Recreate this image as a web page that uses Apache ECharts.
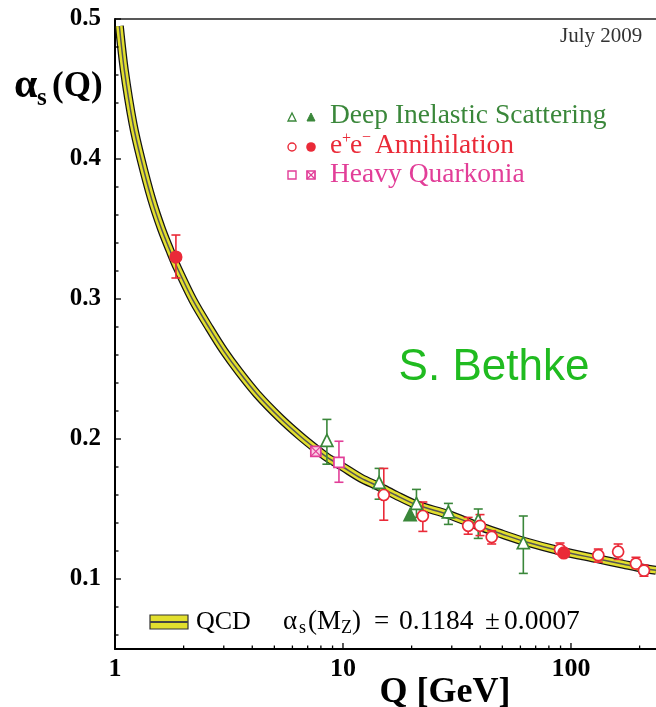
<!DOCTYPE html>
<html><head><meta charset="utf-8">
<script src="https://cdn.jsdelivr.net/npm/echarts@6/dist/echarts.min.js"></script>
<style>html,body{margin:0;padding:0;background:#fff}#c{width:656px;height:707px}</style>
</head><body><div id="c"></div>
<script>
// QCD running curve
const curveQ = [1.045, 1.1, 1.2, 1.3, 1.45, 1.6, 1.75, 1.88, 2.2, 2.6, 3.0, 3.5, 4.2, 5.3, 6.5, 7.6, 8.5, 10, 12, 14.4, 17, 21, 29, 39, 50, 62, 90, 130, 170, 209, 236];
const curveA = [0.495, 0.463, 0.425, 0.400, 0.371, 0.350, 0.334, 0.322, 0.299, 0.279, 0.263, 0.248, 0.232, 0.215, 0.202, 0.193, 0.187, 0.180, 0.172, 0.166, 0.160, 0.153, 0.146, 0.138, 0.132, 0.127, 0.120, 0.1145, 0.1105, 0.1075, 0.1062];

// Deep Inelastic Scattering
const disOpenQ  = [8.5, 14.4, 21, 29, 39.2, 61.8];
const disOpenA  = [0.199, 0.169, 0.154, 0.148, 0.142, 0.126];
const disOpenLo = [0.182, 0.157, 0.144, 0.139, 0.129, 0.104];
const disOpenHi = [0.214, 0.179, 0.164, 0.154, 0.150, 0.145];
const disFilledQ = [19.7];
const disFilledA = [0.146];

// e+e- Annihilation
const eeOpenQ  = [15.1, 22.4, 35.4, 39.9, 44.9, 89.5, 131.8, 161, 192.8, 209];
const eeOpenA  = [0.160, 0.145, 0.138, 0.138, 0.130, 0.121, 0.117, 0.1195, 0.111, 0.106];
const eeOpenLo = [0.142, 0.134, 0.132, 0.131, 0.125, 0.118, 0.112, 0.114, 0.108, 0.102];
const eeOpenHi = [0.179, 0.155, 0.144, 0.146, 0.1345, 0.1257, 0.1214, 0.125, 0.1155, 0.110];
const eeFilledQ  = [1.85, 93];
const eeFilledA  = [0.330, 0.1186];
const eeFilledLo = [0.315, 0.1178];
const eeFilledHi = [0.3457, 0.1194];

// Heavy Quarkonia
const hqOpenQ  = [9.6];
const hqOpenA  = [0.1833];
const hqOpenLo = [0.1691];
const hqOpenHi = [0.1984];
const hqCrossQ = [7.6];
const hqCrossA = [0.1912];

// ticks and labels
const xMajorTicks = [1, 10, 100];
const xMinorTicks = [2, 3, 4, 5, 6, 7, 8, 9, 20, 30, 40, 50, 60, 70, 80, 90, 200];
const xTickLabels = ['1', '10', '100'];
const yMajorTicks = [0.1, 0.2, 0.3, 0.4, 0.5];
const yMinorTicks = [0.06, 0.08, 0.12, 0.14, 0.16, 0.18, 0.22, 0.24, 0.26, 0.28, 0.32, 0.34, 0.36, 0.38, 0.42, 0.44, 0.46, 0.48];
const yTickLabels = ['0.1', '0.2', '0.3', '0.4', '0.5'];

const GREEN = '#3a873a', RED = '#ea2a38', PINK = '#e23e98', YEL = '#e2df2e';
const SERIF = 'Liberation Serif';

const pts = (q, a) => q.map((v, i) => [v, a[i]]);
const errs = (q, lo, hi) => q.map((v, i) => [v, lo[i], hi[i]]);

function errRender(color) {
  return function (params, api) {
    const q = api.value(0);
    const p1 = api.coord([q, api.value(1)]), p2 = api.coord([q, api.value(2)]);
    const cw = 4.5, st = { stroke: color, lineWidth: 1.6 };
    return { type: 'group', children: [
      { type: 'line', shape: { x1: p1[0], y1: p1[1], x2: p2[0], y2: p2[1] }, style: st },
      { type: 'line', shape: { x1: p1[0] - cw, y1: p1[1], x2: p1[0] + cw, y2: p1[1] }, style: st },
      { type: 'line', shape: { x1: p2[0] - cw, y1: p2[1], x2: p2[0] + cw, y2: p2[1] }, style: st }
    ]};
  };
}
function errSeries(q, lo, hi, color) {
  return { type: 'custom', data: errs(q, lo, hi), encode: { x: 0, y: [1, 2] }, renderItem: errRender(color), z: 4, silent: true };
}
function scat(q, a, symbol, size, fill, border) {
  return { type: 'scatter', data: pts(q, a), symbol: symbol, symbolSize: size, z: 5, silent: true,
    itemStyle: { color: fill, borderColor: border, borderWidth: 1.7, opacity: 1 } };
}
function crossSquare(cx, cy, h, color, fill) {
  return [
    { type: 'rect', shape: { x: cx - h, y: cy - h, width: 2 * h, height: 2 * h }, style: { fill: fill, stroke: color, lineWidth: 1.7 } },
    { type: 'line', shape: { x1: cx - h, y1: cy - h, x2: cx + h, y2: cy + h }, style: { stroke: color, lineWidth: 1.2 } },
    { type: 'line', shape: { x1: cx + h, y1: cy - h, x2: cx - h, y2: cy + h }, style: { stroke: color, lineWidth: 1.2 } }
  ];
}

const curveData = pts(curveQ, curveA);
const lineBase = { type: 'line', data: curveData, showSymbol: false, smooth: 0.3, silent: true, clip: true };

const chart = echarts.init(document.getElementById('c'), null, { renderer: 'canvas' });

const T = (text, x, y, size, color, extra) => Object.assign({ type: 'text', x: x, y: y, silent: true,
  style: Object.assign({ text: text, font: size + 'px "' + SERIF + '"', fill: color, textVerticalAlign: 'middle', textAlign: 'left' }, extra || {}) });

const graphics = [
  T('July 2009', 560, 36, 21, '#333'),
  // legend texts
  T('Deep Inelastic Scattering', 330, 116, 27.5, GREEN),
  T('e', 330, 146, 27.5, RED), T('+', 342, 139, 16, RED),
  T('e', 350, 146, 27.5, RED), T('\u2212', 362, 138, 16, RED),
  T('Annihilation', 375, 146, 27.5, RED),
  T('Heavy Quarkonia', 330, 175, 27.5, PINK),
  // legend symbols
  { type: 'polygon', shape: { points: [[288, 121], [296, 121], [292, 113]] }, style: { fill: '#fff', stroke: GREEN, lineWidth: 1.3 } },
  { type: 'polygon', shape: { points: [[307, 121], [315, 121], [311, 113]] }, style: { fill: GREEN, stroke: GREEN, lineWidth: 1 } },
  { type: 'circle', shape: { cx: 292, cy: 147, r: 4 }, style: { fill: '#fff', stroke: RED, lineWidth: 1.4 } },
  { type: 'circle', shape: { cx: 311, cy: 147, r: 4.8 }, style: { fill: RED } },
  { type: 'rect', shape: { x: 288, y: 171, width: 8, height: 8 }, style: { fill: '#fff', stroke: PINK, lineWidth: 1.4 } },
  ...crossSquare(311, 175, 4, PINK, '#fff'),
  // S. Bethke
  { type: 'text', x: 494, y: 368, silent: true, style: { text: 'S. Bethke', font: '44px "Liberation Sans"', fill: '#20bb20', textAlign: 'center', textVerticalAlign: 'middle' } },
  // y-axis title
  T('\u03b1', 14, 86, 42, '#000', { font: 'bold 42px "' + SERIF + '"' }),
  T('s', 37, 99, 25, '#000', { font: 'bold 25px "' + SERIF + '"' }),
  T('(Q)', 52, 87, 35, '#000', { font: 'bold 35px "' + SERIF + '"' }),
  // x-axis title
  { type: 'text', x: 445, y: 693, silent: true, style: { text: 'Q [GeV]', font: 'bold 36px "' + SERIF + '"', fill: '#000', textAlign: 'center', textVerticalAlign: 'middle' } },
  // QCD legend band
  { type: 'rect', shape: { x: 150, y: 615, width: 38, height: 14 }, style: { fill: YEL, stroke: '#333', lineWidth: 1.2 } },
  { type: 'line', shape: { x1: 150, y1: 622, x2: 188, y2: 622 }, style: { stroke: '#444', lineWidth: 1.8 } },
  T('QCD', 196, 622, 26, '#000'),
  T('\u03b1', 283, 622, 27, '#000'),
  T('s', 299, 628, 18, '#000'),
  T('(M', 308, 622, 27, '#000'),
  T('Z', 341, 628, 18, '#000'),
  T(')', 352, 622, 27, '#000'),
  T('=', 374, 622, 27, '#000'),
  T('0.1184', 399, 622, 27.5, '#000'),
  T('\u00b1', 485, 622, 27, '#000'),
  T('0.0007', 504, 622, 27.5, '#000')
];

const option = {
  animation: false,
  backgroundColor: '#fff',
  grid: { left: 115, right: 0, top: 19, bottom: 58, containLabel: false },
  xAxis: [
    { type: 'log', logBase: 10, min: 1, max: 236, position: 'bottom',
      axisLine: { show: true, lineStyle: { color: '#000', width: 2 } },
      axisTick: { show: false }, splitLine: { show: false }, minorTick: { show: false },
      axisLabel: { show: true, margin: 7, color: '#000', fontFamily: SERIF, fontWeight: 'bold', fontSize: 26,
        showMinLabel: true, showMaxLabel: false,
        formatter: function (v) { const i = xMajorTicks.findIndex(t => Math.abs(t - v) / t < 1e-6); return i >= 0 ? xTickLabels[i] : ''; } } },
    { type: 'log', logBase: 10, min: 1, max: 236, position: 'top',
      axisLine: { show: true, lineStyle: { color: '#222', width: 1.5 } },
      axisTick: { show: false }, axisLabel: { show: false }, splitLine: { show: false } }
  ],
  yAxis: {
    type: 'value', min: 0.05, max: 0.5, interval: 0.05,
    axisLine: { show: true, lineStyle: { color: '#000', width: 2 } },
    axisTick: { show: false }, splitLine: { show: false },
    axisLabel: { margin: 14, color: '#000', fontFamily: SERIF, fontWeight: 'bold', fontSize: 25,
      formatter: function (v) { const i = yMajorTicks.findIndex(t => Math.abs(t - v) < 1e-6); return i >= 0 ? yTickLabels[i] : ''; } }
  },
  graphic: graphics,
  series: [
    Object.assign({}, lineBase, { z: 1, lineStyle: { color: '#151515', width: 9 } }),
    Object.assign({}, lineBase, { z: 2, lineStyle: { color: YEL, width: 6.5 } }),
    Object.assign({}, lineBase, { z: 3, lineStyle: { color: '#555', width: 1.5 } }),
    errSeries(disOpenQ, disOpenLo, disOpenHi, GREEN),
    errSeries(eeOpenQ, eeOpenLo, eeOpenHi, RED),
    errSeries(eeFilledQ, eeFilledLo, eeFilledHi, RED),
    errSeries(hqOpenQ, hqOpenLo, hqOpenHi, PINK),
    scat(disOpenQ, disOpenA, 'triangle', 12, '#fff', GREEN),
    scat(disFilledQ, disFilledA, 'triangle', 12, GREEN, GREEN),
    scat(eeOpenQ, eeOpenA, 'circle', 11, '#fff', RED),
    scat(eeFilledQ, eeFilledA, 'circle', 11.5, RED, RED),
    scat(hqOpenQ, hqOpenA, 'rect', 10, '#fff', PINK),
    { type: 'custom', data: pts(hqCrossQ, hqCrossA), encode: { x: 0, y: 1 }, z: 5, silent: true,
      renderItem: function (params, api) { const p = api.coord([api.value(0), api.value(1)]);
        return { type: 'group', children: crossSquare(p[0], p[1], 5, PINK, '#f9cde3') }; } },
    // axis ticks through the scales
    { type: 'custom', data: xMajorTicks.map(v => [v, 0.05, 1]).concat(xMinorTicks.map(v => [v, 0.05, 0])), encode: { x: 0, y: 1 }, z: 10, clip: false, silent: true,
      renderItem: function (params, api) { const p = api.coord([api.value(0), api.value(1)]); const len = api.value(2) ? 6 : 3.5;
        return { type: 'line', shape: { x1: p[0], y1: p[1], x2: p[0], y2: p[1] - len }, style: { stroke: '#000', lineWidth: 1.3 } }; } },
    { type: 'custom', data: yMajorTicks.map(v => [1, v, 1]).concat(yMinorTicks.map(v => [1, v, 0])), encode: { x: 0, y: 1 }, z: 10, clip: false, silent: true,
      renderItem: function (params, api) { const p = api.coord([api.value(0), api.value(1)]); const len = api.value(2) ? 6 : 3.5;
        return { type: 'line', shape: { x1: p[0], y1: p[1], x2: p[0] + len, y2: p[1] }, style: { stroke: '#000', lineWidth: 1.3 } }; } }
  ]
};
chart.setOption(option);
</script>
</body></html>
